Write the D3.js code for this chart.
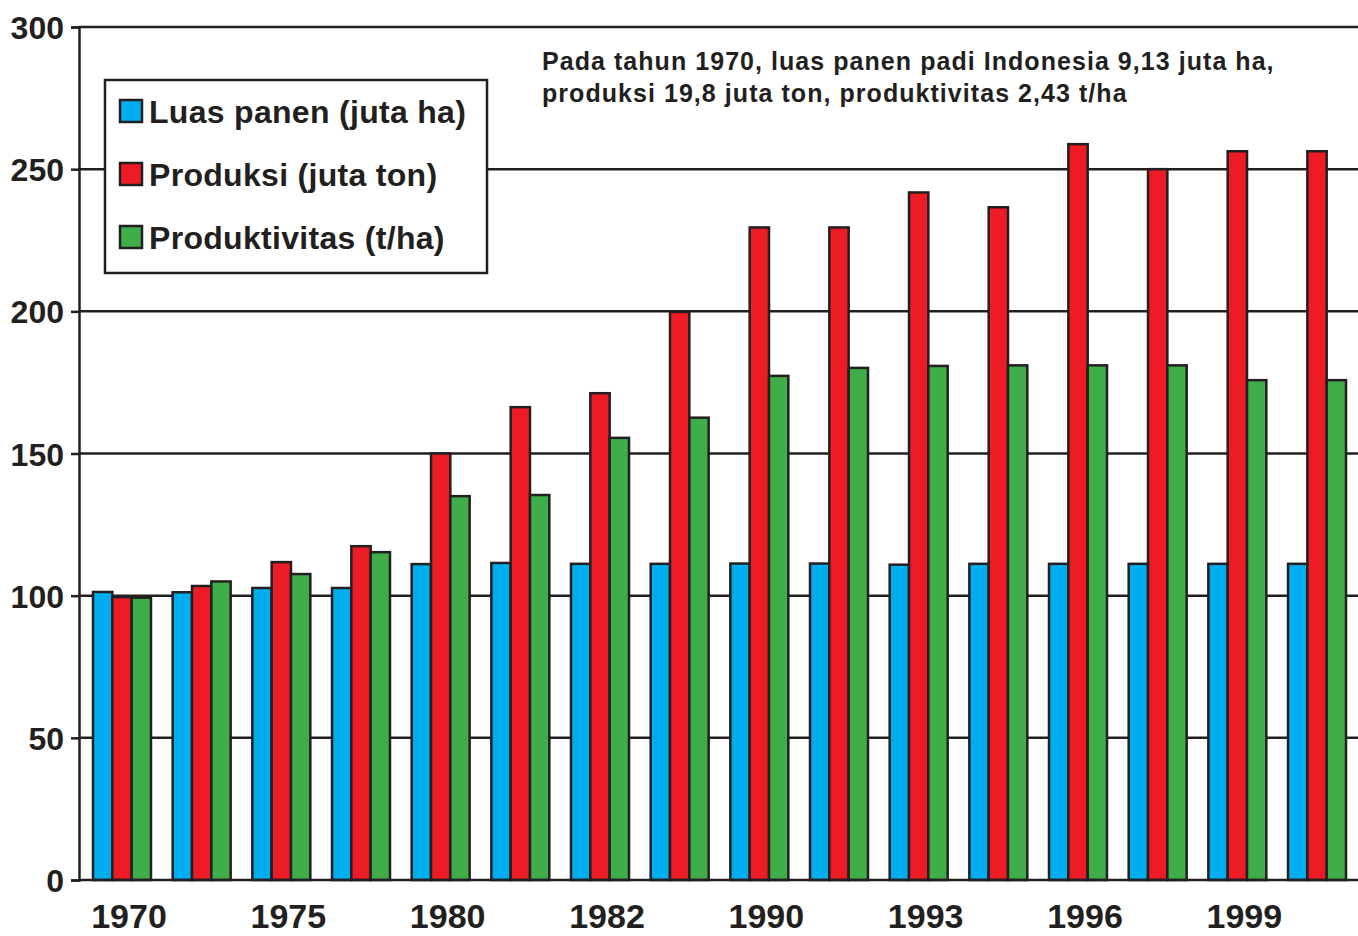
<!DOCTYPE html>
<html>
<head>
<meta charset="utf-8">
<script src="https://cdn.jsdelivr.net/npm/d3@7"></script>
<style>
  html, body { margin: 0; padding: 0; background: #fff; }
  svg { display: block; }
  text { font-family: "Liberation Sans", Arial, Helvetica, sans-serif; font-weight: bold; fill: #231f20; }
</style>
</head>
<body>
<svg id="chart" width="1358" height="936"></svg>
<script>
// ---- data ----
const categories = ["1970","","1975","","1980","","1982","","1990","","1993","","1996","","1999",""];
const seriesNames = ["Luas panen (juta ha)", "Produksi (juta ton)", "Produktivitas (t/ha)"];
const luasPanen    = [101.3, 101.2, 102.7, 102.7, 111.1, 111.5, 111.2, 111.2, 111.3, 111.3, 110.9, 111.2, 111.2, 111.2, 111.2, 111.2];
const produksi     = [99.5, 103.4, 111.8, 117.4, 150.0, 166.3, 171.2, 199.8, 229.5, 229.5, 241.8, 236.6, 258.8, 250.0, 256.3, 256.3];
const produktivitas= [99.3, 105.0, 107.6, 115.3, 135.0, 135.4, 155.5, 162.6, 177.3, 180.1, 180.8, 181.0, 181.0, 181.0, 175.8, 175.8];
const yTicks = [0, 50, 100, 150, 200, 250, 300];
const note = ["Pada tahun 1970, luas panen padi Indonesia 9,13 juta ha,",
              "produksi 19,8 juta ton, produktivitas 2,43 t/ha"];
const colors = ["#00aeef", "#ed1c24", "#3fae49"];

// ---- layout ----
const svg = d3.select("#chart");
const stroke = "#231f20";
const mLeft = 79, mRight = 1358, mTop = 27, mBottom = 880;

const x = d3.scaleBand().domain(d3.range(categories.length))
  .range([80, 1359]).paddingInner(0.272).paddingOuter(0.163);
const xs = d3.scaleBand().domain(d3.range(3)).range([0, x.bandwidth()]);
const y = d3.scaleLinear().domain([0, 300]).range([mBottom, mTop]);

// gridlines
svg.append("g").selectAll("line").data(yTicks.filter(d => d > 0)).join("line")
  .attr("x1", mLeft).attr("x2", mRight)
  .attr("y1", d => y(d)).attr("y2", d => y(d))
  .attr("stroke", stroke).attr("stroke-width", 2.5);

// y axis
const yAxis = d3.axisLeft(y).tickValues(yTicks).tickSize(8).tickPadding(7).tickFormat(d3.format("d"));
const ya = svg.append("g").attr("transform", `translate(${mLeft},0)`).call(yAxis);
ya.select(".domain").attr("stroke", stroke).attr("stroke-width", 2.5);
ya.selectAll(".tick line").attr("stroke", stroke).attr("stroke-width", 2.5);
ya.selectAll(".tick text").style("font-size", "32px").style("font-family", "'Liberation Sans', Arial, sans-serif")
  .style("font-weight", "bold").attr("fill", stroke).attr("dy", "0.36em");

// bars
const series = [luasPanen, produksi, produktivitas];
const groups = svg.append("g").selectAll("g").data(categories).join("g")
  .attr("transform", (d, i) => `translate(${x(i)},0)`);
groups.selectAll("rect").data((d, i) => series.map((s, k) => ({k, v: s[i]}))).join("rect")
  .attr("x", d => xs(d.k))
  .attr("width", xs.bandwidth())
  .attr("y", d => y(d.v))
  .attr("height", d => y(0) - y(d.v))
  .attr("fill", d => colors[d.k])
  .attr("stroke", stroke).attr("stroke-width", 2.5);

// bottom axis line
svg.append("line").attr("x1", mLeft).attr("x2", mRight).attr("y1", y(0)).attr("y2", y(0))
  .attr("stroke", stroke).attr("stroke-width", 2.5);

// x labels
svg.append("g").selectAll("text").data(categories).join("text")
  .attr("x", (d, i) => x(i) + x.bandwidth() / 2 + 7)
  .attr("y", 928)
  .attr("text-anchor", "middle")
  .style("font-size", "34px")
  .text(d => d);

// legend
const lg = svg.append("g");
lg.append("rect").attr("x", 105).attr("y", 80).attr("width", 382).attr("height", 193)
  .attr("fill", "#fff").attr("stroke", stroke).attr("stroke-width", 2.5);
seriesNames.forEach((n, k) => {
  const yy = 100 + k * 63;
  lg.append("rect").attr("x", 120).attr("y", yy).attr("width", 22).attr("height", 22)
    .attr("fill", colors[k]).attr("stroke", stroke).attr("stroke-width", 2.5);
  lg.append("text").attr("x", 149).attr("y", yy + 23).style("font-size", "32px")
    .style("letter-spacing", "0.3px").text(n);
});

// annotation
note.forEach((t, i) => {
  svg.append("text").attr("x", 542).attr("y", 70 + i * 32)
    .style("font-size", "25px").style("letter-spacing", "1.05px").text(t);
});
</script>
</body>
</html>
